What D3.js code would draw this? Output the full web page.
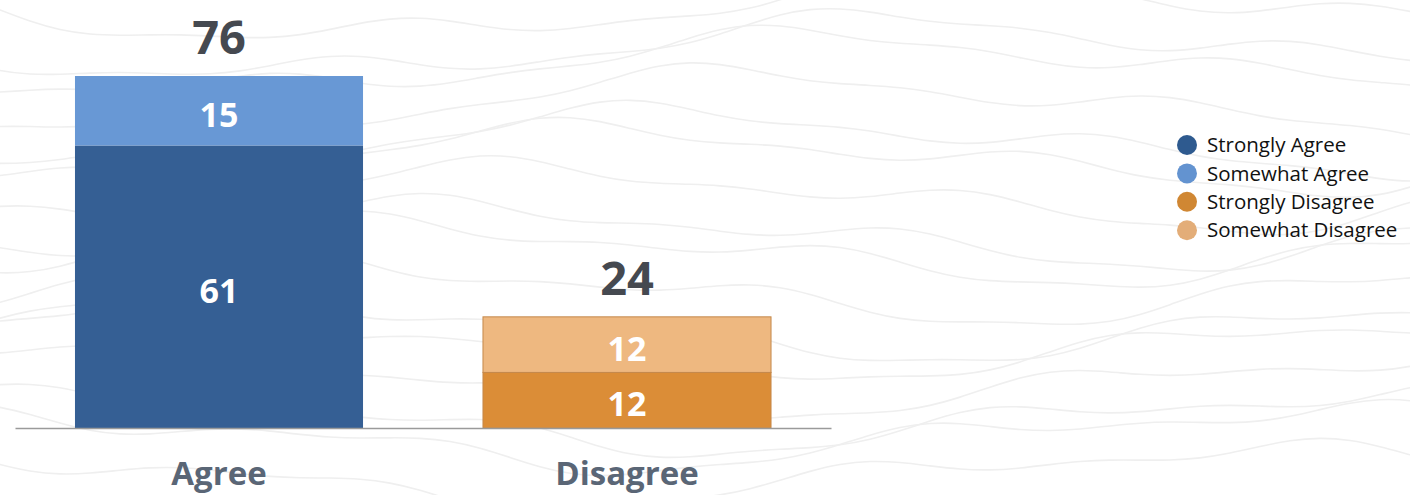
<!DOCTYPE html>
<html>
<head>
<meta charset="utf-8">
<script src="https://cdn.jsdelivr.net/npm/d3@7"></script>
<style>
  html, body { margin: 0; padding: 0; background: #ffffff; }
  svg { display: block; }
</style>
</head>
<body>
<svg id="chart" width="1410" height="495"></svg>
<script>
// Survey responses (percent)
const categories = ["Agree", "Disagree"];
const seriesNames = ["Strongly Agree", "Somewhat Agree", "Strongly Disagree", "Somewhat Disagree"];
const stronglyAgree    = [61, 0];
const somewhatAgree    = [15, 0];
const stronglyDisagree = [0, 12];
const somewhatDisagree = [0, 12];
const totals = [76, 24];

const barColors    = ["#355f94", "#6898d5", "#db8d37", "#eeb880"];
const legendColors = ["#2e5a8f", "#6393d0", "#d08733", "#e3ad78"];

const W = 1410, H = 495;
const svg = d3.select("#chart");
const FONT = "'Open Sans', 'Noto Sans', sans-serif";

// Faint topographic texture behind the chart
const topo = svg.append("g").attr("fill", "none").attr("stroke", "#efefef").attr("stroke-width", 1.6);
const wave = d3.line().curve(d3.curveBasis);
for (let k = 0; k < 16; k++) {
  const pts = [];
  const base = 10 + k * 31 + 8 * Math.sin(k * 2.1);
  for (let x = -60; x <= W + 60; x += 30) {
    const y = base
      + 26 * Math.sin(x / 210 + k * 0.35)
      + 12 * Math.sin(x / 83 + k * 0.9)
      + 5 * Math.sin(x / 37 + k * 1.7);
    pts.push([x, y]);
  }
  topo.append("path").attr("d", wave(pts));
}

// Scales
const x = d3.scaleBand().domain(categories).range([15, 831]).paddingInner(0.294).paddingOuter(0.147);
const y = d3.scaleLinear().domain([0, 76]).range([428, 76]);

// Stack the four series
const rows = categories.map((c, i) => ({
  category: c,
  "Strongly Agree": stronglyAgree[i],
  "Somewhat Agree": somewhatAgree[i],
  "Strongly Disagree": stronglyDisagree[i],
  "Somewhat Disagree": somewhatDisagree[i]
}));
const stacked = d3.stack().keys(seriesNames)(rows);

const layers = svg.append("g").selectAll("g").data(stacked).join("g")
  .attr("fill", (d, i) => barColors[i]);

layers.selectAll("rect").data(d => d.filter(s => s[1] - s[0] > 0).map(s => ({ s, key: d.key })))
  .join("rect")
  .attr("x", d => x(d.s.data.category))
  .attr("width", x.bandwidth())
  .attr("y", d => y(d.s[1]))
  .attr("height", d => y(d.s[0]) - y(d.s[1]))
  .attr("stroke", d => d.key.includes("Disagree") ? "#c4884a" : "none")
  .attr("stroke-width", 1);

// Segment value labels
layers.selectAll("text").data(d => d.filter(s => s[1] - s[0] > 0))
  .join("text")
  .attr("x", s => x(s.data.category) + x.bandwidth() / 2)
  .attr("y", s => (y(s[0]) + y(s[1])) / 2)
  .attr("dy", "0.47em")
  .attr("text-anchor", "middle")
  .attr("fill", "#ffffff")
  .attr("font-family", FONT)
  .attr("font-weight", 700)
  .attr("font-size", 34)
  .text(s => s[1] - s[0]);

// Totals above bars
svg.append("g").selectAll("text").data(categories).join("text")
  .attr("x", c => x(c) + x.bandwidth() / 2)
  .attr("y", (c, i) => y(totals[i]) - 22)
  .attr("text-anchor", "middle")
  .attr("fill", "#454950")
  .attr("font-family", FONT)
  .attr("font-weight", 700)
  .attr("font-size", 47)
  .text((c, i) => totals[i]);

// Category axis
const axis = svg.append("g").attr("transform", `translate(0,${y(0)})`)
  .call(d3.axisBottom(x).tickSize(0).tickPadding(34));
axis.select(".domain").attr("stroke", "#9a9a9a").attr("stroke-width", 1.5);
axis.selectAll("text")
  .attr("fill", "#5a6676")
  .attr("font-family", FONT)
  .attr("font-weight", 700)
  .attr("font-size", 33);

// Legend
const legend = svg.append("g").attr("transform", "translate(1187,145)");
const item = legend.selectAll("g").data(seriesNames).join("g")
  .attr("transform", (d, i) => `translate(0,${i * 28.4})`);
item.append("circle").attr("r", 10).attr("fill", (d, i) => legendColors[i]);
item.append("text")
  .attr("x", 20).attr("dy", "0.35em")
  .attr("fill", "#111111")
  .attr("font-family", FONT)
  .attr("font-size", 20.5)
  .text(d => d);
</script>
</body>
</html>
